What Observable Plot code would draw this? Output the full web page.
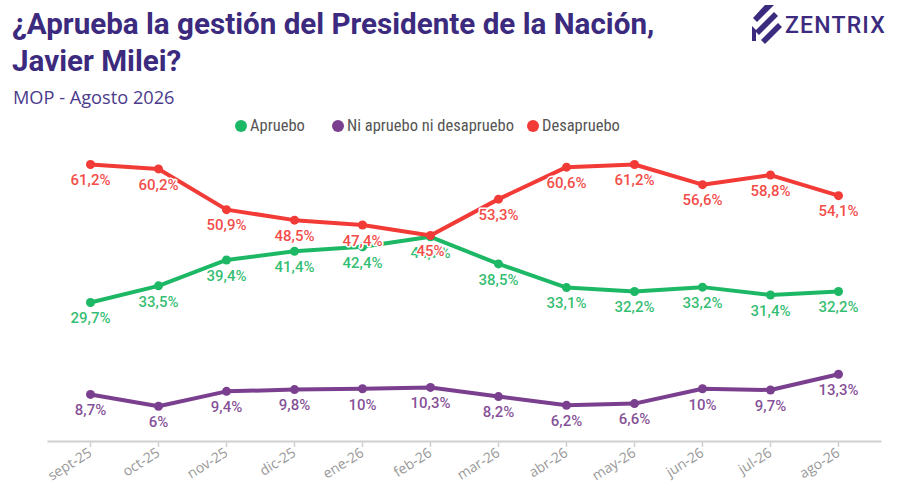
<!DOCTYPE html>
<html>
<head>
<meta charset="utf-8">
<script src="https://cdn.jsdelivr.net/npm/d3@7"></script>
<script src="https://cdn.jsdelivr.net/npm/@observablehq/plot@0.6"></script>
<style>
  html, body { margin: 0; padding: 0; background: #fff; }
  #wrap { position: relative; width: 900px; height: 486px; overflow: hidden; font-family: Roboto, "Noto Sans", sans-serif; }
  #title { position: absolute; left: 12px; top: 6px; font-size: 29.6px; font-weight: 700; color: #3b2a7d; line-height: 37px; font-family: Roboto, sans-serif; }
  #subtitle { position: absolute; left: 13px; top: 85px; font-size: 18.2px; color: #4b3b8c; font-family: "Open Sans", sans-serif; font-weight: 400; }
  #legend { position: absolute; left: 0; top: 116px; width: 900px; font-size: 16.5px; color: #555; font-family: "Liberation Sans Narrow", "Roboto Condensed", Roboto, sans-serif; }
  #legend span.item { position: absolute; top: 0; white-space: nowrap; }
  #legend span.dot { display: inline-block; width: 12px; height: 12px; border-radius: 50%; vertical-align: -1px; margin-right: 3px; }
  #logo { position: absolute; left: 750px; top: 3px; }
  #chart { position: absolute; left: 0; top: 140px; }
</style>
</head>
<body>
<div id="wrap">
  <div id="title">¿Aprueba la gestión del Presidente de la Nación,<br>Javier Milei?</div>
  <div id="subtitle">MOP - Agosto 2026</div>
  <div id="legend"></div>
  <div id="logo">
    <svg width="150" height="42" viewBox="0 0 150 42">
      <g fill="#3b2a7d">
        <polygon points="15,2 24,2 7,19 3,15"/>
        <polygon points="24,9 28,13 9,32 5,28"/>
        <polygon points="28,20 32,24 15,41 11,37"/>
        <polygon points="2,23 6,27 6,38 2,38"/>
      </g>
      <text x="35" y="30" font-family="Roboto, sans-serif" font-size="23" font-weight="500" letter-spacing="1.2" fill="#3b2a7d">ZENTRIX</text>
    </svg>
  </div>
  <div id="chart"></div>
</div>
<script>
const months = ["sept-25","oct-25","nov-25","dic-25","ene-26","feb-26","mar-26","abr-26","may-26","jun-26","jul-26","ago-26"];
const apruebo = [29.7, 33.5, 39.4, 41.4, 42.4, 44.7, 38.5, 33.1, 32.2, 33.2, 31.4, 32.2];
const ni = [8.7, 6, 9.4, 9.8, 10, 10.3, 8.2, 6.2, 6.6, 10, 9.7, 13.3];
const desapruebo = [61.2, 60.2, 50.9, 48.5, 47.4, 45, 53.3, 60.6, 61.2, 56.6, 58.8, 54.1];
const seriesNames = ["Apruebo", "Ni apruebo ni desapruebo", "Desapruebo"];
const colors = ["#1db865", "#7a3f8e", "#f23a36"];
const legendX = [235, 332, 527];

const seriesValues = [apruebo, ni, desapruebo];
const data = [];
seriesNames.forEach((s, i) => {
  months.forEach((m, j) => data.push({serie: s, mes: m, valor: seriesValues[i][j]}));
});

const fmt = v => String(v).replace(".", ",") + "%";

// legend
const leg = document.getElementById("legend");
seriesNames.forEach((s, i) => {
  const it = document.createElement("span");
  it.className = "item";
  it.style.left = legendX[i] + "px";
  it.innerHTML = `<span class="dot" style="background:${colors[i]}"></span>${s}`;
  leg.appendChild(it);
});

const color = {domain: seriesNames, range: colors};
const chart = Plot.plot({
  width: 900,
  height: 346,
  marginLeft: 48,
  marginRight: 20,
  marginTop: 7,
  marginBottom: 45,
  x: {type: "point", domain: months, padding: 0.56, label: null},
  y: {domain: [0, 65], range: [292, 7.4], axis: null},
  color,
  style: {fontFamily: "Roboto, sans-serif", overflow: "visible"},
  marks: [
    Plot.frame({anchor: "bottom", stroke: "#d0d0d0", strokeWidth: 2}),
    Plot.axisX({tickSize: 6, stroke: "#d0d0d0", strokeWidth: 1.5, tickRotate: -32, tickPadding: 4, fontSize: 14, fill: "#999", label: null,
      fontFamily: "Open Sans, sans-serif"}),
    Plot.line(data, {x: "mes", y: "valor", z: "serie", stroke: "serie", strokeWidth: 4, curve: "linear"}),
    Plot.dot(data, {x: "mes", y: "valor", fill: "serie", r: 4.5}),
    Plot.text(data, {x: "mes", y: "valor", text: d => fmt(d.valor), fill: "serie", dy: 16,
      fontSize: 15, fontWeight: 500, stroke: "white", strokeWidth: 3, fillOpacity: 0.92})
  ]
});
document.getElementById("chart").appendChild(chart);
</script>
</body>
</html>
